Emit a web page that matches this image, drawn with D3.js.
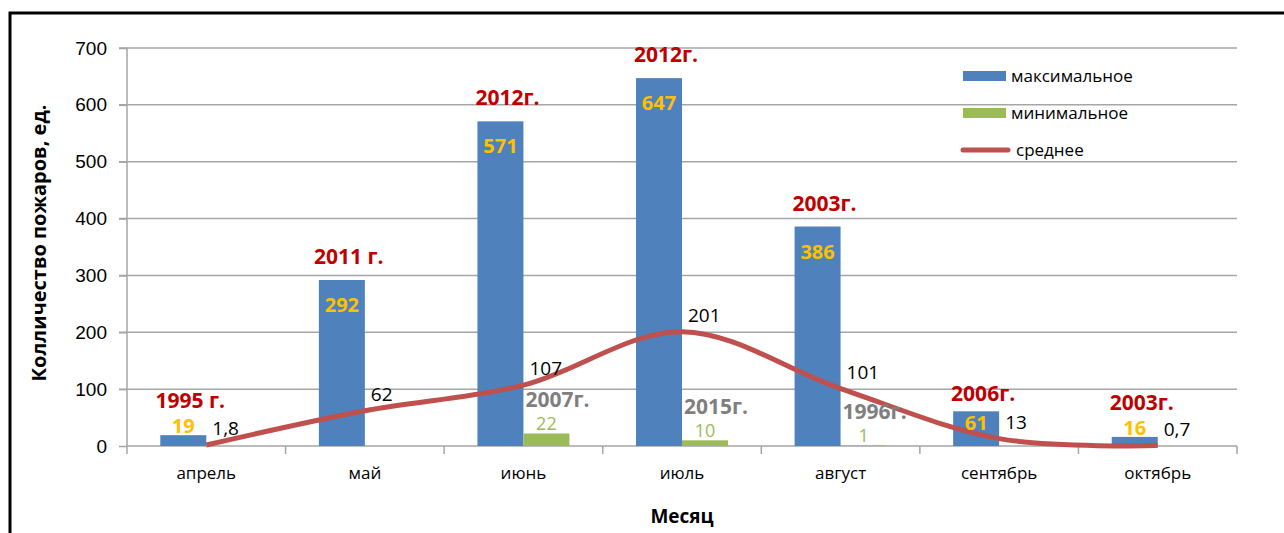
<!DOCTYPE html>
<html>
<head>
<meta charset="utf-8">
<script src="https://cdn.jsdelivr.net/npm/d3@7"></script>
<style>
  body { margin: 0; background: #fff; }
  svg { display: block; font-family: "Open Sans", "DejaVu Sans", sans-serif; }
  .grid line { stroke: #a6a6a6; stroke-width: 1.5; }
  .axis path, .axis line { stroke: #a6a6a6; stroke-width: 1.5; }
  .axis text { font-size: 17px; fill: #000; }
  .axis .tick text { font-size: 19px; }
</style>
</head>
<body>
<div id="chart"></div>
<script>
// Data
const months = ["апрель", "май", "июнь", "июль", "август", "сентябрь", "октябрь"];
const maxValues = [19, 292, 571, 647, 386, 61, 16];
const maxYears = ["1995 г.", "2011 г.", "2012г.", "2012г.", "2003г.", "2006г.", "2003г."];
const minValues = [0, 0, 22, 10, 1, 0, 0];
const minYears = [null, null, "2007г.", "2015г.", "1996г.", null, null];
const avgValues = [1.8, 62, 107, 201, 101, 13, 0.7];
const yTicks = [0, 100, 200, 300, 400, 500, 600, 700];

const W = 1284, H = 533;
const margin = {top: 48, right: 47, bottom: 87, left: 127},
    width = W - margin.left - margin.right,
    height = H - margin.top - margin.bottom;

const blue = "#4f81bd", green = "#9bbb59", red = "#c0504d";

const svg = d3.select("#chart").append("svg")
    .attr("width", W)
    .attr("height", H);

// frame around the chart (goes past the right/bottom edge like in the original)
svg.append("rect")
    .attr("x", 10).attr("y", 13)
    .attr("width", W + 10).attr("height", H + 10)
    .attr("fill", "none")
    .attr("stroke", "#000")
    .attr("stroke-width", 3);

const g = svg.append("g")
    .attr("transform", "translate(" + margin.left + "," + margin.top + ")");

const x0 = d3.scaleBand().domain(months).range([0, width]);
const x1 = d3.scaleBand().domain(["max", "min"])
    .range([x0.bandwidth() * 0.21, x0.bandwidth() * 0.79]);
const y = d3.scaleLinear().domain([0, 700]).range([height, 0]);

// horizontal grid
g.append("g").attr("class", "grid")
    .selectAll("line").data(yTicks.slice(1)).enter()
    .append("line")
    .attr("x1", -8).attr("x2", width)
    .attr("y1", d => y(d)).attr("y2", d => y(d));

// y axis
const yAxis = g.append("g").attr("class", "axis")
    .call(d3.axisLeft(y).tickValues(yTicks).tickSize(8).tickSizeOuter(0).tickPadding(12));
yAxis.select(".domain").attr("d", "M0," + height + "V0");

// x axis: ticks on the band boundaries
const xAxis = g.append("g").attr("class", "axis")
    .attr("transform", "translate(0," + height + ")");
xAxis.append("line").attr("x1", 0).attr("x2", width).attr("y1", 0).attr("y2", 0);
xAxis.selectAll(".bt").data(months).enter().append("line")
    .attr("x1", d => x0(d)).attr("x2", d => x0(d)).attr("y1", 0).attr("y2", 8);
xAxis.append("line").attr("x1", width).attr("x2", width).attr("y1", 0).attr("y2", 8);
xAxis.selectAll(".lbl").data(months).enter().append("text")
    .attr("x", d => x0(d) + x0.bandwidth() / 2)
    .attr("y", 33)
    .attr("text-anchor", "middle")
    .text(d => d);

// axis titles
g.append("text")
    .attr("x", width / 2).attr("y", height + 77)
    .attr("text-anchor", "middle")
    .style("font-size", "19px").style("font-weight", "bold")
    .text("Месяц");
svg.append("text")
    .attr("transform", "translate(46," + (margin.top + height / 2 - 4) + ") rotate(-90)")
    .attr("text-anchor", "middle")
    .style("font-size", "20px").style("font-weight", "bold")
    .text("Колличество пожаров, ед.");

const rows = months.map((m, i) => ({
    month: m, max: maxValues[i], maxYear: maxYears[i],
    min: minValues[i], minYear: minYears[i], avg: avgValues[i]
}));

// bars
g.selectAll(".barMax").data(rows).enter().append("rect")
    .attr("x", d => x0(d.month) + x1("max"))
    .attr("y", d => y(d.max))
    .attr("width", x1.bandwidth())
    .attr("height", d => height - y(d.max))
    .attr("fill", blue);
g.selectAll(".barMin").data(rows.filter(d => d.min > 0)).enter().append("rect")
    .attr("x", d => x0(d.month) + x1("min"))
    .attr("y", d => y(d.min))
    .attr("width", x1.bandwidth())
    .attr("height", d => height - y(d.min))
    .attr("fill", green);

// average line, smoothed like Excel
const cx = d => x0(d.month) + x0.bandwidth() / 2;
const line = d3.line()
    .x(cx)
    .y(d => y(d.avg))
    .curve(d3.curveCardinal.tension(0));
g.append("path").datum(rows)
    .attr("d", line)
    .attr("fill", "none")
    .attr("stroke", red)
    .attr("stroke-width", 5);

// labels of the max bars
const valBase = d => {
    const h = height - y(d.max);
    if (h >= 40) return y(d.max) + 32;
    if (h >= 30) return y(d.max) + 19;
    return y(d.max) - 2;
};
const maxCenter = d => x0(d.month) + x1("max") + x1.bandwidth() / 2;
g.selectAll(".maxVal").data(rows).enter().append("text")
    .attr("x", maxCenter)
    .attr("y", valBase)
    .attr("text-anchor", "middle")
    .style("font-size", "20px").style("font-weight", "bold")
    .attr("fill", "#ffc000")
    .text(d => d.max);
g.selectAll(".maxYear").data(rows).enter().append("text")
    .attr("x", d => maxCenter(d) + 7)
    .attr("y", d => {
        const h = height - y(d.max);
        if (h < 30) return valBase(d) - 25;
        if (h < 40) return y(d.max) - 10;
        return y(d.max) - 16;
    })
    .attr("text-anchor", "middle")
    .style("font-size", "21px").style("font-weight", "bold")
    .attr("fill", "#c00000")
    .text(d => d.maxYear);

// labels of the min bars
const minRows = rows.filter(d => d.min > 0);
g.selectAll(".minVal").data(minRows).enter().append("text")
    .attr("x", d => x0(d.month) + x1("min") + x1.bandwidth() / 2)
    .attr("y", d => y(d.min) - 3)
    .attr("text-anchor", "middle")
    .style("font-size", "18px")
    .attr("fill", green)
    .text(d => d.min);
g.selectAll(".minYear").data(minRows).enter().append("text")
    .attr("x", d => x0(d.month) + x1("min") + 2)
    .attr("y", d => y(d.min) - 26)
    .style("font-size", "21px").style("font-weight", "bold")
    .attr("fill", "#7f7f7f")
    .text(d => d.minYear);

// labels of the average line
g.selectAll(".avgVal").data(rows).enter().append("text")
    .attr("x", d => cx(d) + 6)
    .attr("y", d => y(d.avg) - 10)
    .style("font-size", "19px")
    .attr("fill", "#000")
    .text(d => String(d.avg).replace(".", ","));

// legend
const legend = svg.append("g").attr("transform", "translate(963,0)");
const items = [
    {name: "максимальное", color: blue, type: "rect", y: 76},
    {name: "минимальное", color: green, type: "rect", y: 113},
    {name: "среднее", color: red, type: "line", y: 150}
];
items.forEach(it => {
    if (it.type === "rect") {
        legend.append("rect").attr("x", 0).attr("y", it.y - 5)
            .attr("width", 43).attr("height", 10).attr("fill", it.color);
    } else {
        legend.append("line").attr("x1", 0).attr("x2", 45)
            .attr("y1", it.y).attr("y2", it.y)
            .attr("stroke", it.color).attr("stroke-width", 5)
            .attr("stroke-linecap", "round");
    }
    legend.append("text")
        .attr("x", it.type === "rect" ? 48 : 53)
        .attr("y", it.y)
        .attr("dy", "0.35em")
        .style("font-size", "17px")
        .text(it.name);
});
</script>
</body>
</html>
